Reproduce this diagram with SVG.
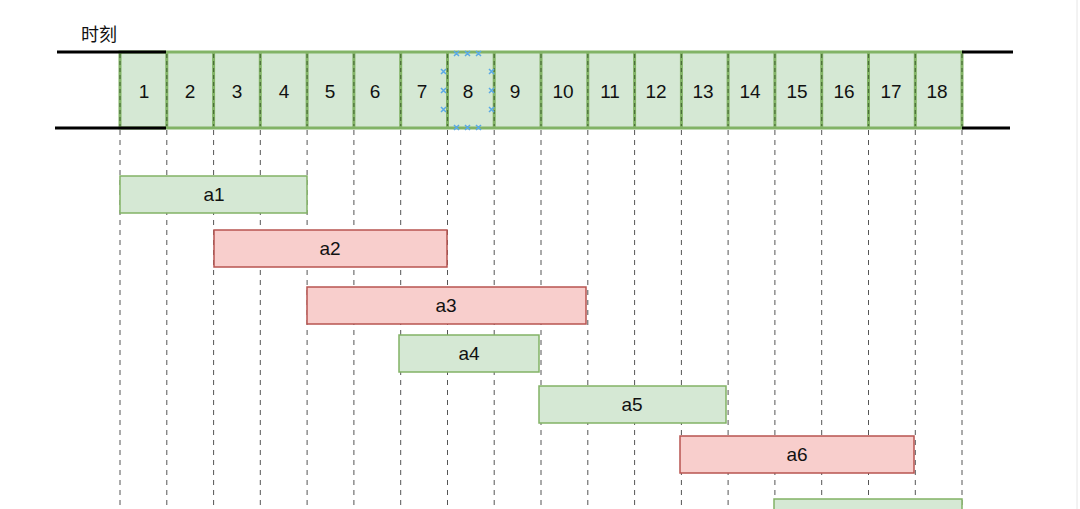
<svg xmlns="http://www.w3.org/2000/svg" width="1080" height="509" viewBox="0 0 1080 509">
<style>
.cell{fill:#d5e8d4;stroke:#82b366;stroke-width:3}
.gsep{stroke:#82b366;stroke-width:3}
.sep{stroke:#4a6e38;stroke-width:1.2;stroke-dasharray:4 3}
.grid{stroke:#555;stroke-width:1;stroke-dasharray:5 5}
.num{font-family:"Liberation Sans",Arial,sans-serif;font-size:19px;fill:#111;text-anchor:middle}
.lbl{font-family:"Liberation Sans",Arial,sans-serif;font-size:19px;fill:#111;text-anchor:middle}
.g{fill:#d5e8d4;stroke:#82b366;stroke-width:1.5}
.r{fill:#f8cecc;stroke:#b85450;stroke-width:1.5}
.blk{stroke:#000;stroke-width:3}
.hx{stroke:#5aa9e6;stroke-width:1.5;fill:none}
</style>
<rect width="1080" height="509" fill="#fff"/>
<line x1="1077" y1="0" x2="1077" y2="509" stroke="#e6e6e6" stroke-width="1"/>
<text x="99" y="41" font-family="'Noto Sans CJK SC',sans-serif" font-size="18" fill="#111" text-anchor="middle">时刻</text>
<g id="grid">
<line class="grid" x1="120" y1="130" x2="120" y2="509"/>
<line class="grid" x1="166.8" y1="130" x2="166.8" y2="509"/>
<line class="grid" x1="213.6" y1="130" x2="213.6" y2="509"/>
<line class="grid" x1="260.3" y1="130" x2="260.3" y2="509"/>
<line class="grid" x1="307.1" y1="130" x2="307.1" y2="509"/>
<line class="grid" x1="353.9" y1="130" x2="353.9" y2="509"/>
<line class="grid" x1="400.7" y1="130" x2="400.7" y2="509"/>
<line class="grid" x1="447.5" y1="130" x2="447.5" y2="509"/>
<line class="grid" x1="494.2" y1="130" x2="494.2" y2="509"/>
<line class="grid" x1="541" y1="130" x2="541" y2="509"/>
<line class="grid" x1="587.8" y1="130" x2="587.8" y2="509"/>
<line class="grid" x1="634.6" y1="130" x2="634.6" y2="509"/>
<line class="grid" x1="681.4" y1="130" x2="681.4" y2="509"/>
<line class="grid" x1="728.1" y1="130" x2="728.1" y2="509"/>
<line class="grid" x1="774.9" y1="130" x2="774.9" y2="509"/>
<line class="grid" x1="821.7" y1="130" x2="821.7" y2="509"/>
<line class="grid" x1="868.5" y1="130" x2="868.5" y2="509"/>
<line class="grid" x1="915.3" y1="130" x2="915.3" y2="509"/>
<line class="grid" x1="962" y1="130" x2="962" y2="509"/>
</g>
<g id="timeline">
<rect class="cell" x="120" y="52" width="842" height="76"/>
<g class="gsep">
<line x1="166.8" y1="52" x2="166.8" y2="128"/><line x1="213.6" y1="52" x2="213.6" y2="128"/><line x1="260.3" y1="52" x2="260.3" y2="128"/><line x1="307.1" y1="52" x2="307.1" y2="128"/><line x1="353.9" y1="52" x2="353.9" y2="128"/><line x1="400.7" y1="52" x2="400.7" y2="128"/><line x1="447.5" y1="52" x2="447.5" y2="128"/><line x1="494.2" y1="52" x2="494.2" y2="128"/><line x1="541" y1="52" x2="541" y2="128"/><line x1="587.8" y1="52" x2="587.8" y2="128"/><line x1="634.6" y1="52" x2="634.6" y2="128"/><line x1="681.4" y1="52" x2="681.4" y2="128"/><line x1="728.1" y1="52" x2="728.1" y2="128"/><line x1="774.9" y1="52" x2="774.9" y2="128"/><line x1="821.7" y1="52" x2="821.7" y2="128"/><line x1="868.5" y1="52" x2="868.5" y2="128"/><line x1="915.3" y1="52" x2="915.3" y2="128"/>
</g>
<g class="sep">
<line x1="120" y1="54" x2="120" y2="126"/><line x1="166.8" y1="54" x2="166.8" y2="126"/><line x1="213.6" y1="54" x2="213.6" y2="126"/><line x1="260.3" y1="54" x2="260.3" y2="126"/><line x1="307.1" y1="54" x2="307.1" y2="126"/><line x1="353.9" y1="54" x2="353.9" y2="126"/><line x1="400.7" y1="54" x2="400.7" y2="126"/><line x1="447.5" y1="54" x2="447.5" y2="126"/><line x1="494.2" y1="54" x2="494.2" y2="126"/><line x1="541" y1="54" x2="541" y2="126"/><line x1="587.8" y1="54" x2="587.8" y2="126"/><line x1="634.6" y1="54" x2="634.6" y2="126"/><line x1="681.4" y1="54" x2="681.4" y2="126"/><line x1="728.1" y1="54" x2="728.1" y2="126"/><line x1="774.9" y1="54" x2="774.9" y2="126"/><line x1="821.7" y1="54" x2="821.7" y2="126"/><line x1="868.5" y1="54" x2="868.5" y2="126"/><line x1="915.3" y1="54" x2="915.3" y2="126"/><line x1="962" y1="54" x2="962" y2="126"/>
</g>
<text class="num" x="144" y="98">1</text>
<text class="num" x="190" y="98">2</text>
<text class="num" x="237" y="98">3</text>
<text class="num" x="284" y="98">4</text>
<text class="num" x="330" y="98">5</text>
<text class="num" x="375" y="98">6</text>
<text class="num" x="422" y="98">7</text>
<text class="num" x="468" y="98">8</text>
<text class="num" x="515" y="98">9</text>
<text class="num" x="563" y="98">10</text>
<text class="num" x="610" y="98">11</text>
<text class="num" x="656" y="98">12</text>
<text class="num" x="703" y="98">13</text>
<text class="num" x="750" y="98">14</text>
<text class="num" x="797" y="98">15</text>
<text class="num" x="844" y="98">16</text>
<text class="num" x="891" y="98">17</text>
<text class="num" x="937" y="98">18</text>
</g>
<g id="connectors">
<line class="blk" x1="57" y1="52" x2="166" y2="52"/>
<line class="blk" x1="55" y1="128" x2="166" y2="128"/>
<line class="blk" x1="962" y1="52" x2="1013" y2="52"/>
<line class="blk" x1="962" y1="128" x2="1010" y2="128"/>
</g>
<g id="selection" class="hx">
<path d="M454 51l5 5M459 51l-5 5M465 51l5 5M470 51l-5 5M476 51l5 5M481 51l-5 5"/>
<path d="M454 125l5 5M459 125l-5 5M465 125l5 5M470 125l-5 5M476 125l5 5M481 125l-5 5"/>
<path d="M441 69l5 5M446 69l-5 5M441 88l5 5M446 88l-5 5M441 107l5 5M446 107l-5 5"/>
<path d="M489 69l5 5M494 69l-5 5M489 88l5 5M494 88l-5 5M489 107l5 5M494 107l-5 5"/>
</g>
<g id="a1"><rect class="g" x="120" y="176" width="187" height="37"/><text class="lbl" x="214" y="201">a1</text></g>
<g id="a2"><rect class="r" x="214" y="230" width="233" height="37"/><text class="lbl" x="330" y="255">a2</text></g>
<g id="a3"><rect class="r" x="307" y="287" width="279" height="37"/><text class="lbl" x="446" y="312">a3</text></g>
<g id="a4"><rect class="g" x="399" y="335" width="140" height="37"/><text class="lbl" x="469" y="360">a4</text></g>
<g id="a5"><rect class="g" x="539" y="386" width="187" height="37"/><text class="lbl" x="632" y="411">a5</text></g>
<g id="a6"><rect class="r" x="680" y="436" width="234" height="37"/><text class="lbl" x="797" y="461">a6</text></g>
<g id="a7"><rect class="g" x="774" y="499" width="188" height="37"/></g>
</svg>
